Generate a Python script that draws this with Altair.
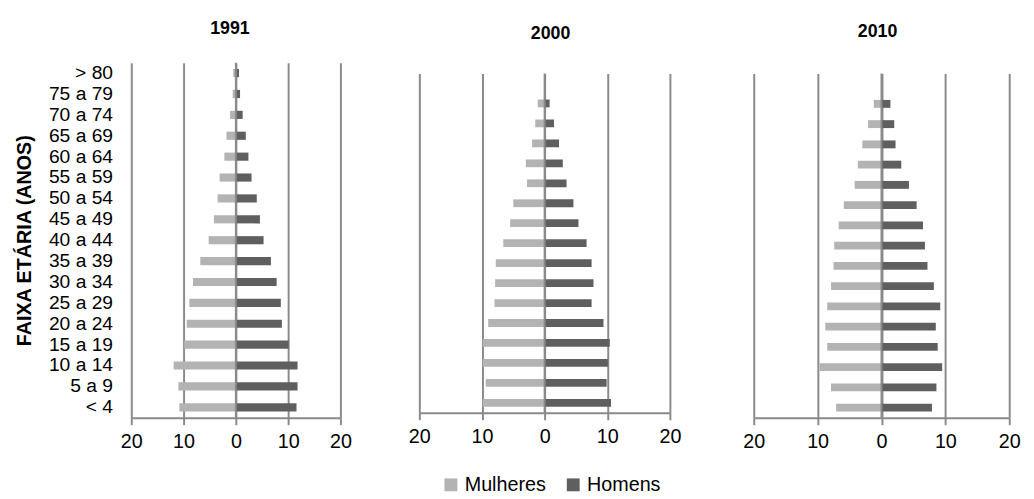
import altair as alt
import pandas as pd

ages = ["> 80", "75 a 79", "70 a 74", "65 a 69", "60 a 64", "55 a 59", "50 a 54",
        "45 a 49", "40 a 44", "35 a 39", "30 a 34", "25 a 29", "20 a 24",
        "15 a 19", "10 a 14", "5 a 9", "< 4"]
sexes = ["Mulheres", "Homens"]
years = ["1991", "2000", "2010"]

women_1991 = [0.5, 0.6, 1.1, 1.8, 2.2, 3.1, 3.5, 4.2, 5.2, 6.8, 8.2, 8.9, 9.4, 9.9, 11.9, 11.0, 10.8]
men_1991 = [0.6, 0.8, 1.3, 1.9, 2.4, 3.0, 4.0, 4.6, 5.3, 6.7, 7.8, 8.6, 8.8, 10.1, 11.8, 11.8, 11.6]
women_2000 = [None, 1.1, 1.5, 2.0, 3.0, 2.8, 5.0, 5.5, 6.6, 7.8, 7.9, 8.0, 9.0, 9.9, 9.9, 9.4, 9.9]
men_2000 = [None, 0.8, 1.5, 2.3, 2.9, 3.5, 4.6, 5.4, 6.7, 7.5, 7.8, 7.5, 9.4, 10.4, 10.1, 9.9, 10.6]
women_2010 = [None, 1.2, 2.1, 3.0, 3.7, 4.2, 5.9, 6.7, 7.4, 7.5, 7.9, 8.5, 8.8, 8.5, 9.7, 7.9, 7.1]
men_2010 = [None, 1.4, 2.0, 2.2, 3.1, 4.3, 5.5, 6.5, 6.8, 7.2, 8.2, 9.2, 8.5, 8.8, 9.5, 8.6, 7.9]

tick_values = [-20, -10, 0, 10, 20]

rows = []
for year, w_list, m_list in [("1991", women_1991, men_1991),
                             ("2000", women_2000, men_2000),
                             ("2010", women_2010, men_2010)]:
    for age, wv, mv in zip(ages, w_list, m_list):
        if wv is not None:
            rows.append({"ano": year, "faixa": age, "sexo": "Mulheres", "valor": -wv})
        if mv is not None:
            rows.append({"ano": year, "faixa": age, "sexo": "Homens", "valor": mv})
df = pd.DataFrame(rows)
zero_df = pd.DataFrame({"zero": [0]})

FONT = "Liberation Sans"
GRID = "#8a8a8a"

color = alt.Color(
    "sexo:N",
    scale=alt.Scale(domain=sexes, range=["#b3b3b3", "#5f5f5f"]),
    legend=alt.Legend(
        orient="none", legendX=314, legendY=418, direction="horizontal", title=None,
        symbolType="square", symbolSize=170, symbolStrokeWidth=0,
        labelFont=FONT, labelFontSize=20, labelColor="black", columnPadding=17,
    ),
)


def x_enc():
    return alt.X(
        "valor:Q", stack=None,
        scale=alt.Scale(domain=[-20, 20], nice=False, zero=False),
        axis=alt.Axis(
            values=tick_values, labelExpr="abs(datum.value)", title=None,
            grid=True, gridColor=GRID, gridWidth=2,
            domainColor=GRID, domainWidth=2,
            tickColor=GRID, tickWidth=2, tickSize=7,
            labelPadding=7, labelFont=FONT, labelFontSize=20, labelColor="black",
            labelFlush=False, labelOverlap=False,
        ),
    )


def panel(year, width, height, y_axis, title=None):
    bars = alt.Chart(df).transform_filter(alt.datum.ano == year).mark_bar().encode(
        x=x_enc(),
        y=alt.Y("faixa:N", sort=ages,
                scale=alt.Scale(domain=ages, paddingInner=0.61, paddingOuter=0.305),
                axis=y_axis),
        color=color,
    )
    zero_line = alt.Chart(zero_df).mark_rule(color=GRID, strokeWidth=2).encode(
        x=alt.X("zero:Q", scale=alt.Scale(domain=[-20, 20], nice=False, zero=False))
    )
    props = dict(width=width, height=height)
    if title is not None:
        props["title"] = title
    return alt.layer(bars, zero_line).properties(**props)


def spacer(year, width, height, offset, dx):
    return alt.Chart(pd.DataFrame({"t": [""]})).mark_text().encode(
        text="t:N"
    ).properties(width=width, height=height,
                 title=alt.TitleParams(year, offset=offset, dx=dx))


y_axis_1 = alt.Axis(
    title="FAIXA ETÁRIA (ANOS)", titleFont=FONT, titleFontSize=20, titleFontWeight="bold",
    titleColor="black", titlePadding=14,
    labelFont=FONT, labelFontSize=19.5, labelColor="black", labelPadding=19,
    labelOverlap=False, ticks=False, domain=False, grid=False,
)
y_axis_3 = alt.Axis(labels=False, ticks=True, tickSize=17, tickOpacity=0,
                    domain=False, grid=False, title=None)

T1_OFFSET = 24
p1 = panel("1991", 212, 360, y_axis_1,
           title=alt.TitleParams("1991", offset=T1_OFFSET, dx=-6))
p2 = alt.vconcat(spacer("2000", 254, 10, T1_OFFSET - 5, 6),
                 panel("2000", 254, 344, None), spacing=0)
p3 = alt.vconcat(spacer("2010", 259, 10, T1_OFFSET - 3, -4),
                 panel("2010", 259, 349, y_axis_3), spacing=0)

chart = alt.hconcat(p1, p2, p3, spacing=56).properties(
    padding={"left": 6, "top": 9, "right": 5, "bottom": 5}
).configure_view(stroke=None).configure_title(
    font=FONT, fontSize=18, fontWeight="bold", color="black", anchor="middle"
)

chart.save("out.html", embed_options={"renderer": "svg", "actions": False})
